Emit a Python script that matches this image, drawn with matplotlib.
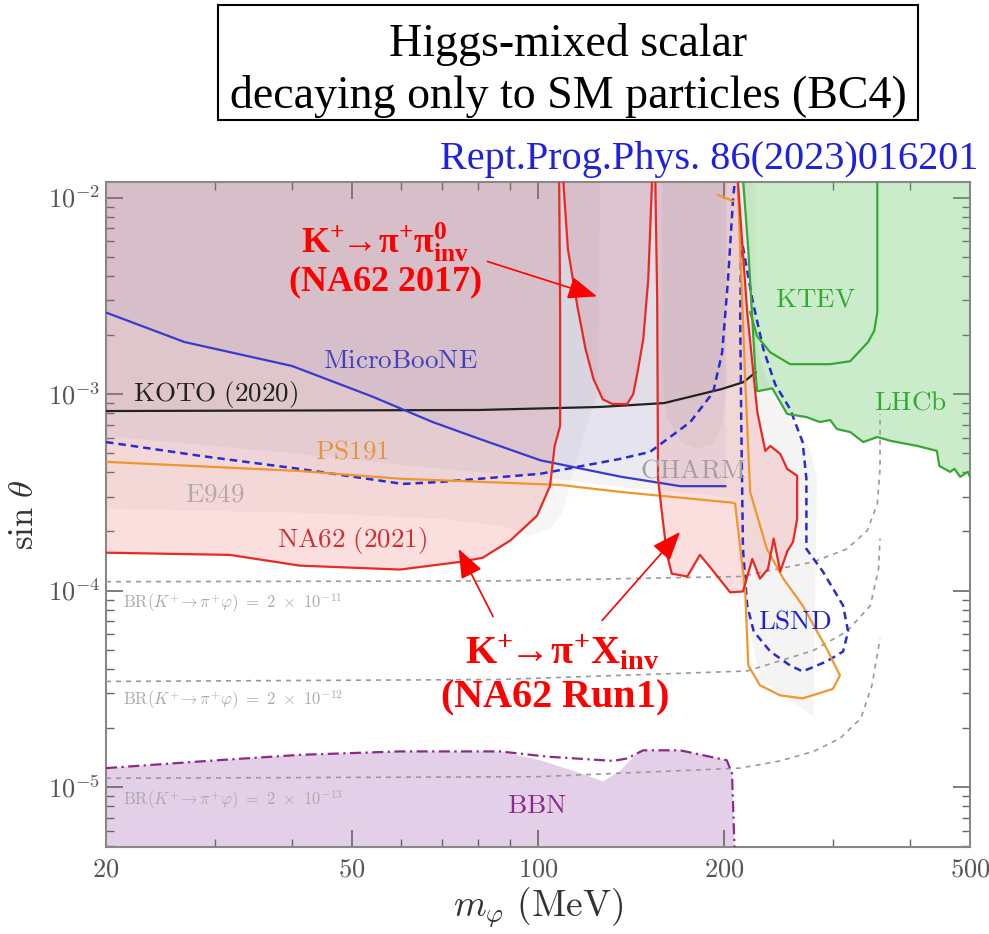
import numpy as np
import matplotlib.pyplot as plt
from matplotlib.patches import Rectangle
from matplotlib.ticker import FixedLocator, FixedFormatter, NullFormatter, LogLocator

plt.rcParams['mathtext.fontset'] = 'cm'
plt.rcParams['mathtext.rm'] = 'Liberation Serif'
plt.rcParams['mathtext.it'] = 'Liberation Serif:italic'
plt.rcParams['mathtext.bf'] = 'Liberation Serif:bold'

TOP = 1.25e-2  # closing value above the frame

# --- exclusion contours: mass (MeV) and sin(theta) ---
koto_m = [20, 80, 126, 160, 198, 215, 225]
koto_s = [8.2e-4, 8.3e-4, 8.6e-4, 9.0e-4, 1.06e-3, 1.15e-3, 1.29e-3]

uboone_m = [20, 26.8, 40, 54, 67.6, 80.6, 101, 136, 170, 201]
uboone_s = [2.6e-3, 1.84e-3, 1.39e-3, 9.7e-4, 7.2e-4, 5.9e-4, 4.6e-4, 3.8e-4, 3.4e-4, 3.4e-4]

dash_m = [20, 28.4, 41.2, 60.4, 69.4, 100.8, 135.8, 151.8, 176.4, 192, 198.6, 203, 206.8, 208.4]
dash_s = [5.7e-4, 4.85e-4, 4.16e-4, 3.49e-4, 3.57e-4, 3.93e-4, 4.68e-4, 5.08e-4, 7.21e-4,
          1.02e-3, 1.63e-3, 3.84e-3, 9.77e-3, 1.25e-2]

lsnd_m = [213.2, 212.4, 213.2, 214.6, 218, 223.4, 237.6, 255.8, 268, 293, 311.6, 317.5, 311.6,
          289, 271.8, 271.8, 268, 255.8, 242, 231.6, 222.2, 216.4, 213.2]
lsnd_s = [6.27e-3, 2.4e-3, 7.47e-4, 1.63e-4, 8.4e-5, 6.2e-5, 4.9e-5, 4.16e-5, 3.88e-5, 4.36e-5,
          4.9e-5, 6.2e-5, 8.4e-5, 1.25e-4, 1.63e-4, 3.71e-4, 5.7e-4, 8.39e-4, 1.12e-3, 1.69e-3,
          3.03e-3, 4.84e-3, 6.27e-3]

ps191_m = [20, 41.2, 59.8, 108.6, 135.8, 206.8, 208.4, 216.4, 218.9, 228.6, 246.6, 268, 300,
           308, 293, 268, 249.4, 234.6, 220.4, 216.4, 212.4, 210.4]
ps191_s = [4.52e-4, 4.06e-4, 3.71e-4, 3.45e-4, 3.18e-4, 2.8e-4, 2.77e-4, 1e-4, 4.16e-5, 3.3e-5,
           2.93e-5, 2.83e-5, 3.16e-5, 3.7e-5, 5.08e-5, 8.4e-5, 1.15e-4, 1.63e-4, 3.18e-4,
           1.19e-3, 5.45e-3, 1.25e-2]
ps191_top_m = [195.6, 206.8]
ps191_top_s = [1.03e-2, 9.6e-3]

na62_m = [20, 31.7, 41.2, 59.8, 74.8, 81.4, 90.2, 99.6, 104.6, 106.4, 108.6, 108.6, 108.2]
na62_s = [1.56e-4, 1.52e-4, 1.34e-4, 1.28e-4, 1.40e-4, 1.47e-4, 1.80e-4, 2.40e-4, 3.41e-4,
          5.45e-4, 6.89e-4, 2.61e-3, 1.25e-2]

pi0_m = [109.8, 111.8, 115.8, 119.4, 123, 127.3, 132, 139.4, 142.6, 145.2, 148, 150.8, 153]
pi0_s = [1.25e-2, 5.45e-3, 2.80e-3, 1.69e-3, 1.19e-3, 9.4e-4, 8.9e-4, 8.9e-4, 1e-3, 1.34e-3,
         1.9e-3, 3.84e-3, 1.25e-2]

run1_m = [154.8, 155.9, 156.4, 158.6, 161.6, 164.6, 174.4, 182.8, 192, 204.6, 214.6, 222.2,
          228.6, 235.6, 240.6, 246.6, 253, 258.6, 262.6, 262.6, 253, 246.6, 237.6, 233.2,
          226.4, 218, 210.4]
run1_s = [1.25e-2, 3.03e-3, 3.71e-4, 2.52e-4, 1.54e-4, 1.22e-4, 1.18e-4, 1.52e-4, 1.26e-4,
          9.8e-5, 9.9e-5, 1.45e-4, 1.15e-4, 1.29e-4, 1.84e-4, 1.25e-4, 1.58e-4, 1.77e-4,
          2.32e-4, 3.84e-4, 4.16e-4, 4.96e-4, 5.45e-4, 5.14e-4, 8.1e-4, 2.61e-3, 1.25e-2]

e949_m = [20, 41.2, 69.4, 86.8, 97, 104.6, 109.4, 112.6, 119.4, 124.6, 126]
e949_s = [2.61e-4, 2.49e-4, 2.32e-4, 2.14e-4, 1.90e-4, 2.06e-4, 2.46e-4, 3.49e-4, 6.64e-4,
          9.8e-4, 1.25e-2]
e949b_m = [158.6, 158.6, 162.2, 169.8, 180.6, 192, 198.6, 202, 202]
e949b_s = [1.25e-2, 1.19e-3, 7.47e-4, 5.7e-4, 5.26e-4, 5.57e-4, 7.04e-4, 1.06e-3, 1.25e-2]

charm_m = [20, 41.2, 69.4, 100.8, 135.8, 182.8, 208.4, 214.6, 228.6, 279, 282.6, 275.6, 260,
           242, 228.6, 220.4, 216.4]
charm_s = [6.12e-4, 4.96e-4, 4.16e-4, 3.79e-4, 3.37e-4, 3.10e-4, 2.93e-4, 9.1e-5, 3.57e-5,
           2.29e-5, 3.71e-4, 5.26e-4, 7.04e-4, 9.4e-4, 1.5e-3, 3.03e-3, 1.25e-2]

lhcb_m = [214.6, 218.9, 222.2, 224.6, 226.2, 227.2, 239.4, 253, 271.8, 285.8, 297, 304.6, 320,
          336, 354, 372, 410.8, 442, 446, 464, 472, 482, 496, 500]
lhcb_s = [1.25e-2, 5.45e-3, 2.4e-3, 1.34e-3, 1.036e-3, 1.036e-3, 1.07e-3, 7.92e-4, 7.64e-4,
          7.21e-4, 7.38e-4, 6.64e-4, 6.41e-4, 5.7e-4, 6.05e-4, 5.78e-4, 5.45e-4, 5.14e-4,
          4.31e-4, 4.02e-4, 4.16e-4, 3.79e-4, 4.02e-4, 3.79e-4]

ktev_m = [354, 354, 350, 342, 320, 297, 255.8, 237.6, 226.2, 220.4]
ktev_s = [1.25e-2, 2.61e-3, 2.1e-3, 1.84e-3, 1.47e-3, 1.42e-3, 1.42e-3, 1.63e-3, 1.97e-3, 2.61e-3]

bbn_m = [20, 30.2, 41.2, 59.8, 86.8, 103.4, 132.4, 139.4, 148, 169.8, 202, 206, 208.4]
bbn_s = [1.25e-5, 1.37e-5, 1.46e-5, 1.52e-5, 1.52e-5, 1.43e-5, 1.36e-5, 1.40e-5, 1.54e-5,
         1.54e-5, 1.37e-5, 1.18e-5, 4.0e-6]
bbn_fill_m = [20, 30.2, 41.2, 59.8, 86.8, 100.8, 117, 127.3, 135.8, 146, 169.8, 202, 206, 208.4]
bbn_fill_s = [1.25e-5, 1.37e-5, 1.46e-5, 1.52e-5, 1.52e-5, 1.37e-5, 1.18e-5, 1.07e-5, 1.21e-5,
              1.54e-5, 1.54e-5, 1.37e-5, 1.18e-5, 4.0e-6]

# BR(K+ -> pi+ phi) contours
br11_m = [20, 86.8, 212.4, 279, 316, 341, 354, 357.6, 357.6]
br11_s = [1.11e-4, 1.12e-4, 1.18e-4, 1.40e-4, 1.63e-4, 2.02e-4, 2.77e-4, 4.16e-4, 7.92e-4]
br12_m = [20, 86.8, 218, 279, 316, 345, 355.6, 357.6]
br12_s = [3.45e-5, 3.53e-5, 3.9e-5, 4.96e-5, 6.2e-5, 8.4e-5, 1.29e-4, 1.84e-4]
br13_m = [20, 100, 212.4, 246.6, 279, 308, 333, 347, 357.6]
br13_s = [1.11e-5, 1.13e-5, 1.25e-5, 1.36e-5, 1.52e-5, 1.77e-5, 2.24e-5, 3.3e-5, 5.71e-5]
br_labels = [r'$\mathrm{BR}(K^{+}\!\rightarrow \pi^{+}\varphi)\ =\ 2\ \times\ 10^{-11}$',
             r'$\mathrm{BR}(K^{+}\!\rightarrow \pi^{+}\varphi)\ =\ 2\ \times\ 10^{-12}$',
             r'$\mathrm{BR}(K^{+}\!\rightarrow \pi^{+}\varphi)\ =\ 2\ \times\ 10^{-13}$']
br_label_s = [8.6e-5, 2.77e-5, 8.6e-6]

x_major = [20, 50, 100, 200, 500]
x_minor = [30, 40, 60, 70, 80, 90, 300, 400]
y_major = [1e-5, 1e-4, 1e-3, 1e-2]

RED = '#e82a22'
fig = plt.figure(figsize=(9.89, 9.34), dpi=100)
ax = fig.add_axes([106 / 989, 87 / 934, 864 / 989, 665 / 934])
ax.set_xscale('log')
ax.set_yscale('log')
ax.set_xlim(20, 500)
ax.set_ylim(4.96e-6, 1.2e-2)


def up_fill(m, s, color, alpha, z=2):
    # region above a contour, closed along the top edge
    ax.fill(list(m) + [m[-1], m[0]], list(s) + [TOP, TOP], color=color, alpha=alpha, lw=0, zorder=z)


# shaded regions
ax.fill(bbn_fill_m + [20], bbn_fill_s + [4.0e-6], color='#c496cc', alpha=0.45, lw=0, zorder=1)
up_fill(e949_m, e949_s, '#808080', 0.07)
ax.fill(e949b_m, e949b_s, color='#808080', alpha=0.08, lw=0, zorder=2)
ax.fill(na62_m + [20], na62_s + [TOP], color='#f07070', alpha=0.22, lw=0, zorder=2)
ax.fill(pi0_m, pi0_s, color='#f07070', alpha=0.22, lw=0, zorder=2)
ax.fill(run1_m, run1_s, color='#f07070', alpha=0.22, lw=0, zorder=2)
up_fill(charm_m, charm_s, '#8a7f86', 0.08)
up_fill(dash_m, dash_s, '#6060c0', 0.04)
up_fill(koto_m, koto_s, '#7a5a7a', 0.05)
up_fill(uboone_m, uboone_s, '#5050b0', 0.06)
ax.fill(lhcb_m + [500], lhcb_s + [TOP], color='#5cc45c', alpha=0.32, lw=0, zorder=2.5)

# branching-ratio guide curves
for bm, bs in [(br11_m, br11_s), (br12_m, br12_s), (br13_m, br13_s)]:
    ax.plot(bm, bs, color='#9a9a9a', lw=1.2, ls=(0, (3, 3)), zorder=3)
for txt, s in zip(br_labels, br_label_s):
    ax.text(21.3, s, txt, color='#aaaaaa', fontsize=12, va='center', ha='left', zorder=5)

# boundary lines
ax.plot(bbn_m, bbn_s, color='#8b2a8b', lw=1.6, ls=(0, (5, 2, 1, 2)), zorder=4)
ax.plot(koto_m, koto_s, color='#222222', lw=1.6, zorder=4)
ax.plot(uboone_m, uboone_s, color='#3a3acc', lw=1.6, zorder=4)
ax.plot(dash_m, dash_s, color='#2a2ad0', lw=1.8, ls=(0, (3, 2)), zorder=4)
ax.plot(lsnd_m, lsnd_s, color='#2a2ad0', lw=1.8, ls=(0, (3, 2)), zorder=4)
ax.plot(ps191_m, ps191_s, color='#f0962e', lw=1.6, zorder=4)
ax.plot(ps191_top_m, ps191_top_s, color='#f0962e', lw=1.6, zorder=4)
ax.plot(na62_m, na62_s, color=RED, lw=1.6, zorder=4)
ax.plot(pi0_m, pi0_s, color=RED, lw=1.6, zorder=4)
ax.plot(run1_m, run1_s, color=RED, lw=1.6, zorder=4)
ax.plot(lhcb_m, lhcb_s, color='#35a835', lw=1.6, zorder=4)
ax.plot(ktev_m, ktev_s, color='#35a835', lw=1.6, zorder=4)

# region names
lab = dict(fontsize=19.5, ha='center', va='center', zorder=5)
ax.text(59.8, 1.47e-3, r'$\mathrm{MicroBooNE}$', color='#4040c0', **lab)
ax.text(22.1, 1.0e-3, r'$\mathrm{KOTO\ (2020)}$', color='#222222', fontsize=19.5, ha='left', va='center', zorder=5)
ax.text(50, 5.08e-4, r'$\mathrm{PS191}$', color='#e8943a', **lab)
ax.text(30, 3.1e-4, r'$\mathrm{E949}$', color='#b5a8aa', **lab)
ax.text(50, 1.8e-4, r'$\mathrm{NA62\ (2021)}$', color='#d03030', **lab)
ax.text(178, 4.1e-4, r'$\mathrm{CHARM}$', color='#a59ea3', **lab)
ax.text(281, 3.03e-3, r'$\mathrm{KTEV}$', color='#33aa33', **lab)
ax.text(400, 9.1e-4, r'$\mathrm{LHCb}$', color='#33aa33', **lab)
ax.text(260, 7.0e-5, r'$\mathrm{LSND}$', color='#2020cc', **lab)
ax.text(99.7, 8.0e-6, r'$\mathrm{BBN}$', color='#8b2a8b', **lab)

# NA62 annotations
big = dict(color='red', ha='center', va='center', zorder=6, math_fontfamily='custom')
ax.text(56.6, 5.91e-3, r'$\mathbf{K^{+}\!\!\rightarrow\!\pi^{+}\pi^{0}_{inv}}$', fontsize=26, **big)
ax.text(56.6, 3.71e-3, r'$\mathbf{(NA62\ 2017)}$', fontsize=26, **big)
ax.text(109.4, 4.79e-5, r'$\mathbf{K^{+}\!\!\rightarrow\!\pi^{+}X_{inv}}$', fontsize=29, **big)
ax.text(106.2, 2.83e-5, r'$\mathbf{(NA62\ Run1)}$', fontsize=29, **big)
arr = dict(arrowstyle='-|>,head_length=0.9,head_width=0.35', color='red', lw=1.2,
           mutation_scale=20, shrinkA=0, shrinkB=0)
ax.annotate('', xy=(124.6, 3.14e-3), xytext=(82.8, 4.73e-3), arrowprops=arr, zorder=6)
ax.annotate('', xy=(74.4, 1.63e-4), xytext=(84.6, 7.38e-5), arrowprops=arr, zorder=6)
ax.annotate('', xy=(169.8, 1.99e-4), xytext=(127, 7.05e-5), arrowprops=arr, zorder=6)

# axes styling
ax.xaxis.set_major_locator(FixedLocator(x_major))
ax.xaxis.set_major_formatter(FixedFormatter(['$%d$' % v for v in x_major]))
ax.xaxis.set_minor_locator(FixedLocator(x_minor))
ax.xaxis.set_minor_formatter(NullFormatter())
ax.yaxis.set_major_locator(FixedLocator(y_major))
ax.yaxis.set_major_formatter(FixedFormatter(['$10^{-5}$', '$10^{-4}$', '$10^{-3}$', '$10^{-2}$']))
ax.yaxis.set_minor_locator(LogLocator(base=10, subs=np.arange(2, 10)))
ax.yaxis.set_minor_formatter(NullFormatter())
ax.tick_params(which='both', direction='in', top=True, right=True, color='#666666',
               labelcolor='#555555', labelsize=19)
ax.tick_params(which='major', length=12, width=1.2)
ax.tick_params(which='minor', length=6, width=1.0)
ax.tick_params(axis='x', pad=7)
ax.tick_params(axis='y', pad=4)
for sp in ax.spines.values():
    sp.set_color('#888888')
    sp.set_linewidth(1.5)
ax.set_xlabel(r'$m_{\varphi}\ (\mathrm{MeV})$', fontsize=27, color='#333333', labelpad=2)
ax.set_ylabel(r'$\sin\,\theta$', fontsize=25, color='#333333', labelpad=6)

# title box and reference
fig.patches.append(Rectangle((218 / 989, 1 - 120 / 934), 700 / 989, 115 / 934,
                             transform=fig.transFigure, fill=False, ec='black', lw=1.5))
fig.text(568 / 989, 1 - 45 / 934, 'Higgs-mixed scalar', fontsize=33,
         family='Liberation Serif', ha='center', va='center')
fig.text(568 / 989, 1 - 96 / 934, 'decaying only to SM particles (BC4)', fontsize=33,
         family='Liberation Serif', ha='center', va='center')
fig.text(978 / 989, 1 - 160 / 934, 'Rept.Prog.Phys. 86(2023)016201', fontsize=29,
         family='Liberation Serif', color='#2020e0', ha='right', va='center')

fig.savefig('out.png', dpi=100)
